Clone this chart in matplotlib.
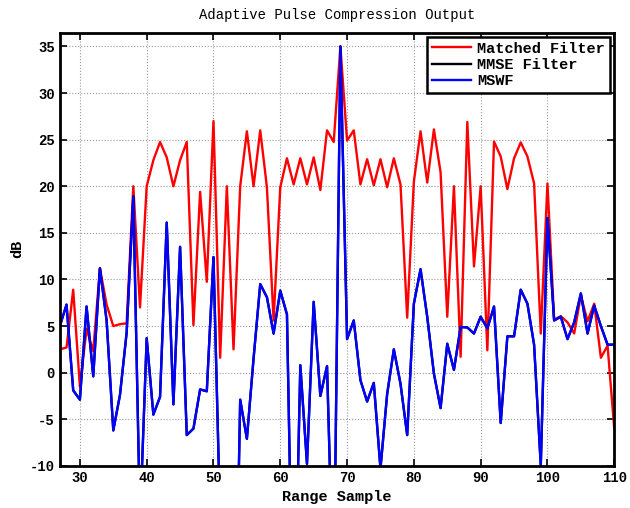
import matplotlib
matplotlib.use('Agg')
import matplotlib.pyplot as plt
import numpy as np

plt.rcParams['font.family'] = ['Liberation Mono', 'DejaVu Sans Mono']
plt.rcParams['axes.unicode_minus'] = False

samples = list(range(27, 111))

matched = [2.5, 2.7, 8.9, -1.5, 4.7, 2.3, 11.2, 7.3, 5.0, 5.2,
           5.3, 20.0, 7.0, 20.0, 22.8, 24.75, 23.1, 20.0, 22.8, 24.75,
           5.1, 19.4, 9.75, 27.0, 1.6, 20.0, 2.5, 20.0, 25.9, 20.0,
           26.0, 19.9, 5.6, 19.9, 23.0, 20.2, 23.0, 20.2, 23.1, 19.6,
           26.0, 24.75, 35.0, 24.9, 26.0, 20.2, 22.9, 20.1, 22.9, 19.9,
           23.0, 20.2, 5.9, 20.5, 25.9, 20.4, 26.1, 21.5, 6.0, 20.0,
           1.7, 26.9, 11.4, 20.0, 2.4, 24.8, 23.2, 19.7, 23.0, 24.7,
           23.2, 20.3, 4.2, 20.3, 5.7, 6.05, 5.4, 4.2, 8.3, 5.5,
           7.4, 1.6, 2.9, -6.0]

mswf = [5.0, 7.3, -1.9, -2.9, 7.1, -0.4, 11.2, 5.6, -6.2, -2.4,
        4.3, 18.9, -16.0, 3.7, -4.5, -2.6, 16.1, -3.4, 13.5, -6.7,
        -6.0, -1.8, -2.0, 12.4, -16.0, -30.0, -40.0, -2.9, -7.1, 1.5,
        9.5, 8.1, 4.2, 8.8, 6.25, -32.0, 0.8, -9.8, 7.6, -2.5,
        0.7, -25.0, 35.0, 3.6, 5.6, -0.8, -3.1, -1.1, -10.3, -2.3,
        2.5, -1.2, -6.7, 7.4, 11.1, 6.0, -0.1, -3.8, 3.1, 0.3,
        4.9, 4.85, 4.2, 6.0, 4.75, 7.1, -5.4, 3.9, 3.9, 8.9,
        7.4, 3.0, -10.0, 16.6, 5.6, 6.0, 3.6, 5.4, 8.5, 4.2,
        7.2, 5.0, 3.0, 3.0]

# MMSE output coincides with the MSWF output (hidden under the blue line)
mmse = list(mswf)

fig = plt.figure(figsize=(6.3, 5.08), dpi=100)
ax = fig.add_axes([0.095, 0.083, 0.88, 0.853])

ax.plot(samples, matched, color='#ff0000', lw=1.7, label='Matched Filter')
ax.plot(samples, mmse, color='black', lw=1.7, label='MMSE Filter')
ax.plot(samples, mswf, color='#0000ff', lw=1.7, label='MSWF')

ax.set_xlim(27, 110)
ax.set_ylim(-10, 36.5)
ax.set_xticks(np.arange(30, 111, 10))
ax.set_yticks(np.arange(-10, 36, 5))
ax.grid(True, color='#999999', linestyle=':', linewidth=0.8)
ax.tick_params(direction='in', top=True, right=True, length=5, width=1.2,
               labelsize=10)
for lab in ax.get_xticklabels() + ax.get_yticklabels():
    lab.set_fontweight('bold')
for s in ax.spines.values():
    s.set_linewidth(2)

ax.set_title('Adaptive Pulse Compression Output', fontsize=10, pad=10)
ax.set_xlabel('Range Sample', fontsize=11, fontweight='bold', labelpad=4)
ax.set_ylabel('dB', fontsize=11, fontweight='bold', labelpad=4)

leg = ax.legend(loc='upper right', fancybox=False, edgecolor='black',
                framealpha=1, borderaxespad=0.3, handlelength=2.6,
                handletextpad=0.4, labelspacing=0.15, borderpad=0.3,
                prop={'family': 'Liberation Mono', 'weight': 'bold', 'size': 11})
leg.get_frame().set_linewidth(1.8)

fig.savefig('out.png', dpi=100)
